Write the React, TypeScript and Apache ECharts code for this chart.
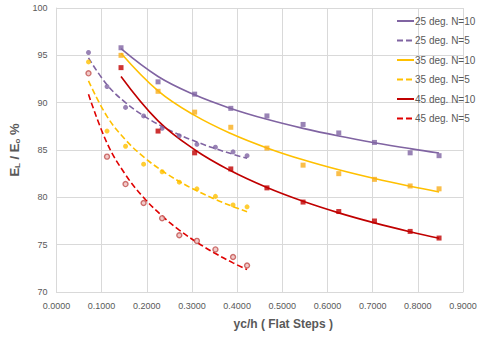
import React, { useEffect, useRef } from "react";
import * as echarts from "echarts";

const xN5 = [0.071, 0.112, 0.153, 0.193, 0.234, 0.272, 0.311, 0.352, 0.391, 0.422];
const xN10 = [0.143, 0.225, 0.306, 0.386, 0.466, 0.546, 0.625, 0.704, 0.783, 0.847];

const y25N10 = [95.8, 92.2, 90.9, 89.4, 88.6, 87.7, 86.8, 85.8, 84.7, 84.4];
const y25N5 = [95.3, 91.7, 89.5, 88.6, 87.3, 86.5, 85.6, 85.3, 84.8, 84.4];
const y35N10 = [95.0, 91.2, 89.0, 87.4, 85.2, 83.4, 82.5, 81.9, 81.2, 80.9];
const y35N5 = [94.3, 87.0, 85.4, 83.5, 82.7, 81.6, 80.9, 80.1, 79.2, 79.0];
const y45N10 = [93.7, 87.0, 84.7, 83.0, 81.0, 79.5, 78.5, 77.5, 76.4, 75.7];
const y45N5 = [93.1, 84.3, 81.4, 79.4, 77.8, 76.0, 75.4, 74.5, 73.7, 72.8];

const seriesNames = [
  "25 deg. N=10",
  "25 deg. N=5",
  "35 deg. N=10",
  "35 deg. N=5",
  "45 deg. N=10",
  "45 deg. N=5",
];

// Power-law least squares trendline (like Excel's power trendline), evaluated at data x's
function powerFit(xs: number[], ys: number[]) {
  const n = xs.length;
  let sx = 0, sy = 0, sxx = 0, sxy = 0;
  for (let i = 0; i < n; i++) {
    const lx = Math.log(xs[i]);
    const ly = Math.log(ys[i]);
    sx += lx; sy += ly; sxx += lx * lx; sxy += lx * ly;
  }
  const b = (n * sxy - sx * sy) / (n * sxx - sx * sx);
  const a = Math.exp((sy - b * sx) / n);
  return xs.map((x) => [x, a * Math.pow(x, b)]);
}

const PURPLE = "#8064A2";
const YELLOW = "#FFC000";
const ORANGE = "#F9AE1B";
const RED = "#C00000";
const RED_LIGHT = "#C0504D";

export default function App() {
  const ref = useRef<HTMLDivElement>(null);
  useEffect(() => {
    if (!ref.current) return;
    const chart = echarts.init(ref.current, null, { renderer: "svg" });
    const groups = [
      { name: seriesNames[0], xs: xN10, ys: y25N10, color: PURPLE, dashed: false, mColor: PURPLE, symbol: "rect", empty: false },
      { name: seriesNames[1], xs: xN5, ys: y25N5, color: PURPLE, dashed: true, mColor: PURPLE, symbol: "circle", empty: false },
      { name: seriesNames[2], xs: xN10, ys: y35N10, color: YELLOW, dashed: false, mColor: ORANGE, symbol: "rect", empty: false },
      { name: seriesNames[3], xs: xN5, ys: y35N5, color: YELLOW, dashed: true, mColor: YELLOW, symbol: "circle", empty: false },
      { name: seriesNames[4], xs: xN10, ys: y45N10, color: RED, dashed: false, mColor: RED, symbol: "rect", empty: false },
      { name: seriesNames[5], xs: xN5, ys: y45N5, color: "#E00000", dashed: true, mColor: RED_LIGHT, symbol: "circle", empty: true },
    ];
    const series: any[] = [];
    groups.forEach((g) => {
      series.push({
        name: g.name,
        type: "line",
        data: powerFit(g.xs, g.ys),
        smooth: 0.4,
        showSymbol: false,
        symbol: "none",
        lineStyle: { color: g.color, width: 1.6, type: g.dashed ? [6, 3] : "solid" },
        itemStyle: { color: g.color },
        z: 2,
      });
    });
    groups.forEach((g) => {
      series.push({
        name: g.name + " pts",
        type: "scatter",
        data: g.xs.map((x, i) => [x, g.ys[i]]),
        symbol: g.symbol,
        symbolSize: g.empty ? 5 : 5,
        itemStyle: g.empty
          ? { color: "#EFBDBB", borderColor: RED_LIGHT, borderWidth: 1.4 }
          : { color: g.mColor },
        z: 3,
      });
    });

    chart.setOption({
      animation: false,
      textStyle: { fontFamily: "Liberation Sans" },
      grid: { left: 56, right: 17, top: 8, bottom: 47 },
      legend: {
        data: seriesNames,
        orient: "vertical",
        left: 391,
        top: 11,
        itemWidth: 17,
        itemHeight: 10,
        itemGap: 9.5,
        itemStyle: { opacity: 0 },
        textStyle: { color: "#595959", fontSize: 10, padding: [0, 0, 0, -4] },
      },
      xAxis: {
        type: "value",
        min: 0,
        max: 0.9,
        interval: 0.1,
        name: "yc/h ( Flat Steps )",
        nameLocation: "middle",
        nameGap: 26,
        nameTextStyle: {
          color: "#595959",
          fontSize: 12,
          fontWeight: "bold",
          padding: [0, 0, 0, 47],
        },
        axisLine: { show: true, lineStyle: { color: "#D9D9D9" } },
        axisTick: { show: false },
        axisLabel: {
          color: "#595959",
          fontSize: 9,
          margin: 9,
          formatter: (v: number) => v.toFixed(4),
        },
        splitLine: { show: true, lineStyle: { color: "#D9D9D9" } },
      },
      yAxis: {
        type: "value",
        min: 70,
        max: 100,
        interval: 5,
        name: "{m|E}{s|L}{m| / E}{s|o}{m| %}",
        nameLocation: "middle",
        nameGap: 29,
        nameTextStyle: {
          rich: {
            m: { fontSize: 13, fontWeight: "bold", color: "#595959", fontFamily: "Liberation Sans" },
            s: { fontSize: 8, fontWeight: "bold", color: "#595959", verticalAlign: "bottom", padding: [6, 0, 0, 0], fontFamily: "Liberation Sans" },
          },
        },
        axisLine: { show: true, lineStyle: { color: "#D9D9D9" } },
        axisTick: { show: false },
        axisLabel: { color: "#595959", fontSize: 9, margin: 9 },
        splitLine: { show: true, lineStyle: { color: "#D9D9D9" } },
      },
      series,
    });
    return () => chart.dispose();
  }, []);
  return (
    <div
      ref={ref}
      style={{ position: "absolute", left: 0, top: 0, width: 480, height: 339, background: "#fff" }}
    />
  );
}
